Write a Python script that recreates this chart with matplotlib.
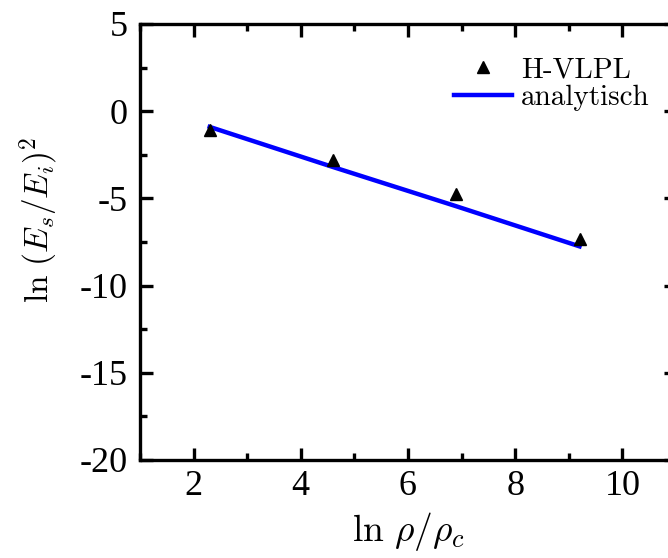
import matplotlib
matplotlib.use('Agg')
import matplotlib.pyplot as plt
from matplotlib.ticker import MultipleLocator, FuncFormatter

plt.rcParams['mathtext.fontset'] = 'cm'
plt.rcParams['font.family'] = ['Liberation Serif', 'DejaVu Serif']

# simulation points (H-VLPL)
sim_x = [2.3, 4.6, 6.9, 9.2]
sim_y = [-1.05, -2.8, -4.75, -7.3]

# analytic curve
ana_x = [2.3, 4.6, 6.9, 9.2]
ana_y = [-0.9, -3.2, -5.45, -7.75]

fig = plt.figure(figsize=(6.68, 5.58), dpi=100)
ax = fig.add_axes([140 / 668, 98 / 558, 536 / 668, 436 / 558])

ax.plot(ana_x, ana_y, '-', color='#0000ff', lw=3.2, label='analytisch', zorder=2)
ax.plot(sim_x, sim_y, '^', color='black', ms=8, ls='none', label='H-VLPL', zorder=3)

ax.set_xlim(1, 11)
ax.set_ylim(-20, 5)
ax.xaxis.set_major_locator(MultipleLocator(2))
ax.xaxis.set_minor_locator(MultipleLocator(1))
ax.yaxis.set_major_locator(MultipleLocator(5))
ax.yaxis.set_minor_locator(MultipleLocator(2.5))
fmt = FuncFormatter(lambda v, p: '%d' % v)
ax.xaxis.set_major_formatter(fmt)
ax.yaxis.set_major_formatter(fmt)

for s in ax.spines.values():
    s.set_linewidth(2.4)
ax.tick_params(which='both', direction='in', top=True, right=True, width=2.4,
               labelsize=26)
ax.tick_params(axis='y', pad=9)
ax.tick_params(axis='x', pad=7)
ax.tick_params(which='major', length=9)
ax.tick_params(which='minor', length=5)

ax.set_xlabel(r'$\ln\,\rho/\rho_c$', fontsize=27, labelpad=5)
ax.set_ylabel(r'$\ln\,(E_s/E_i)^2$', fontsize=24)
ax.yaxis.set_label_coords(-0.148, 0.55)

h, l = ax.get_legend_handles_labels()
leg = ax.legend(h[::-1], l[::-1], loc='upper right', frameon=False,
                prop={'family': 'cmr10', 'size': 21}, handlelength=2.0,
                handletextpad=0.3, labelspacing=0.05,
                bbox_to_anchor=(1.0, 0.985))

fig.savefig('out.png', dpi=100)
